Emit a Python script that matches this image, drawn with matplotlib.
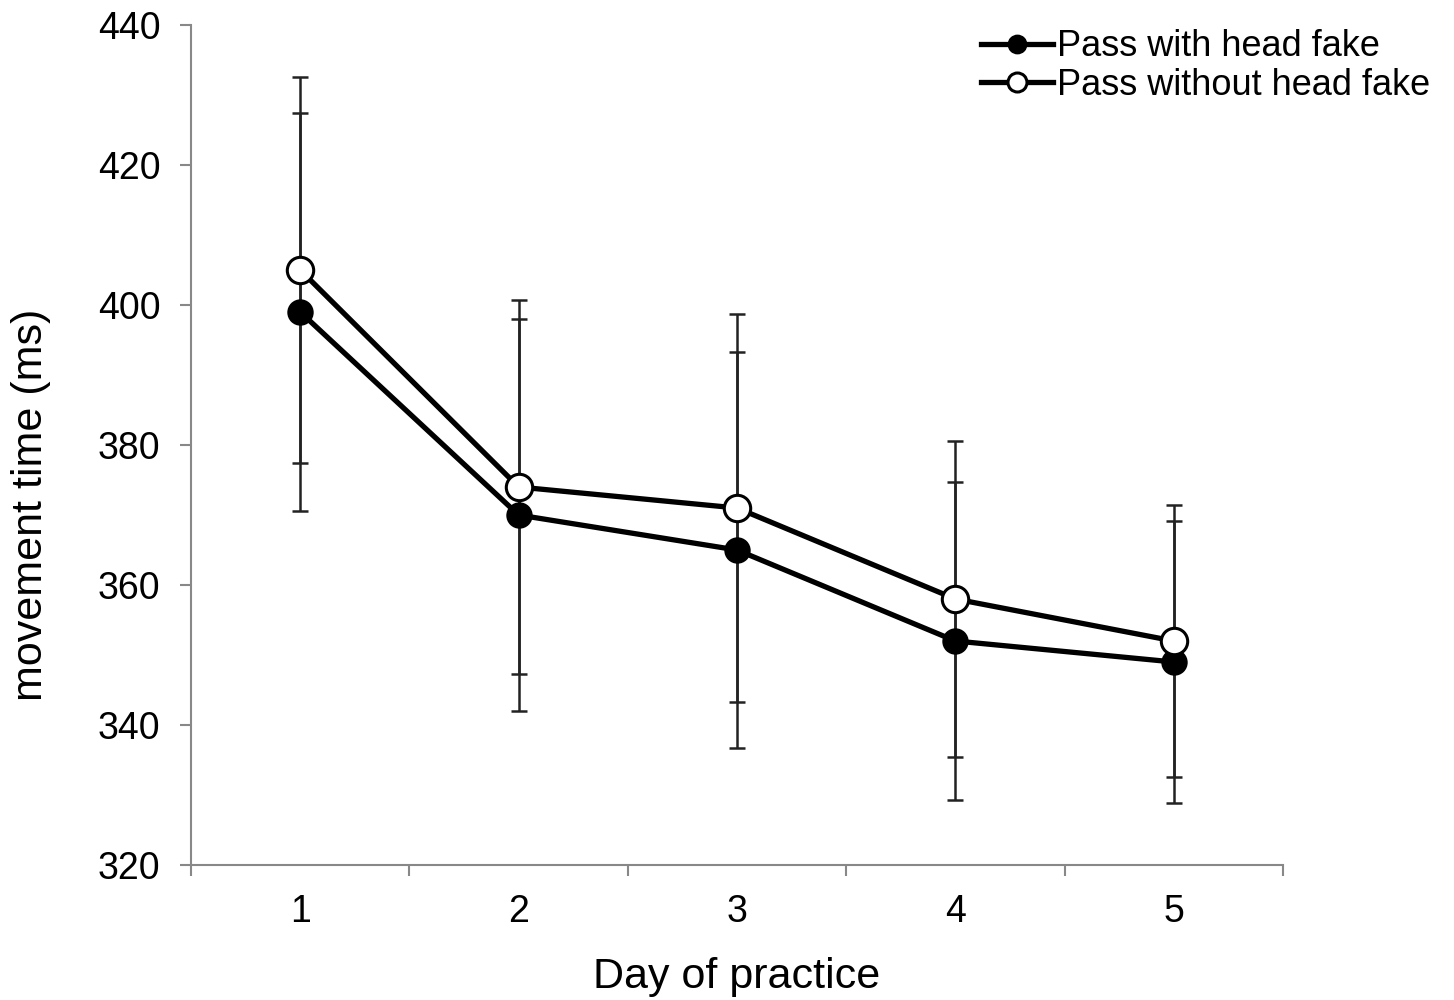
import matplotlib
matplotlib.use("Agg")
import matplotlib.pyplot as plt
import numpy as np

plt.rcParams['font.family'] = ['Liberation Sans', 'DejaVu Sans']

days = [1, 2, 3, 4, 5]
day_labels = ["1", "2", "3", "4", "5"]
with_fake = [399, 370, 365, 352, 349]
with_fake_err = [28.4, 28.0, 28.3, 22.7, 20.1]
without_fake = [405, 374, 371, 358, 352]
without_fake_err = [27.6, 26.7, 27.7, 22.6, 19.4]

fig = plt.figure(figsize=(14.54, 10), dpi=100)
ax = fig.add_axes([0.1314, 0.135, 0.751, 0.84])

for vals, errs in [(with_fake, with_fake_err), (without_fake, without_fake_err)]:
    ax.errorbar(days, vals, yerr=errs, fmt='none', ecolor='#222222',
                elinewidth=1.8, capsize=6, capthick=1.8, zorder=2)

ax.plot(days, with_fake, color='black', lw=3.8, marker='o', ms=17,
        mfc='black', mec='black', mew=2, label='Pass with head fake', zorder=3)
ax.plot(days, without_fake, color='black', lw=3.8, marker='o', ms=19,
        mfc='white', mec='black', mew=2.2, label='Pass without head fake', zorder=4)

ax.set_xlim(0.5, 5.5)
ax.set_ylim(320, 440)
ax.set_yticks(np.arange(320, 441, 20))
ax.set_xticks(days)
ax.set_xticklabels(day_labels)
ax.set_xticks(np.arange(0.5, 5.6, 1), minor=True)
ax.tick_params(axis='x', which='major', length=0, pad=21, labelsize=27)
ax.tick_params(axis='x', which='minor', length=8, width=1.5, color='#888888', direction='out')
ax.tick_params(axis='y', length=8, width=1.5, color='#888888', direction='out', labelsize=27, pad=14)

for s in ['top', 'right']:
    ax.spines[s].set_visible(False)
for s in ['left', 'bottom']:
    ax.spines[s].set_color('#888888')
    ax.spines[s].set_linewidth(1.5)

ax.set_xlabel('Day of practice', fontsize=31, labelpad=19)
ax.set_ylabel('movement time (ms)', fontsize=31)
ax.yaxis.set_label_coords(-0.128, 0.4286)

leg = ax.legend(loc='upper right', bbox_to_anchor=(1.148, 1.012), frameon=False,
                fontsize=26, handlelength=2.0, handletextpad=0.1,
                markerscale=0.72, labelspacing=0.1, borderaxespad=0)

fig.savefig('out.png', dpi=100)
